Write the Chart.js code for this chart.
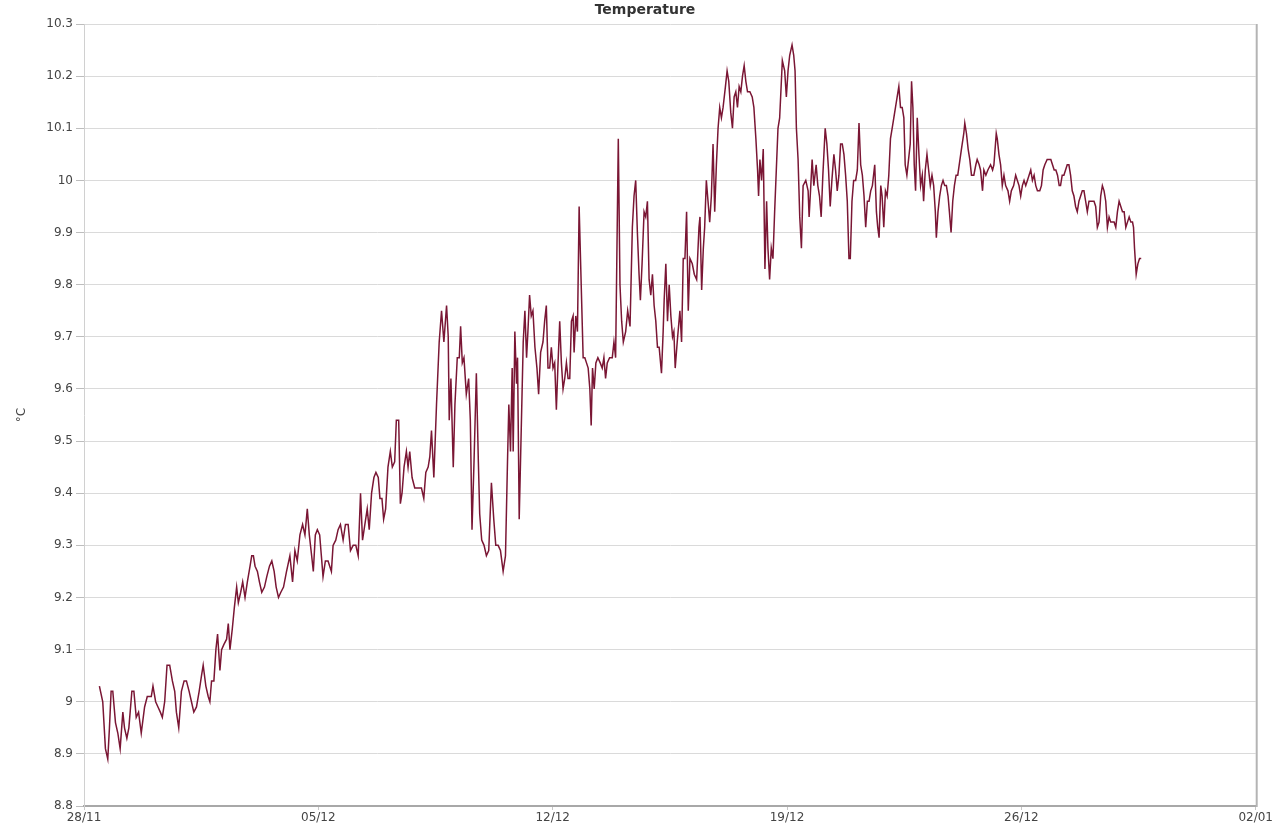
<!DOCTYPE html>
<html>
<head>
<meta charset="utf-8">
<script src="https://cdn.jsdelivr.net/npm/chart.js@4/dist/chart.umd.min.js"></script>
<style>
  html, body { margin: 0; padding: 0; background: #ffffff; }
  #wrap { width: 1274px; height: 832px; position: relative; }
</style>
</head>
<body>
<div id="wrap"><canvas id="c" width="1274" height="832"></canvas></div>
<script>
// ---- Data (days after 28/11 00:00, temperature in °C) ----
const chartTitle = 'Temperature';
const yAxisTitle = '°C';
const xTickDays = [0, 7, 14, 21, 28, 35];
const xTickLabels = ['28/11', '05/12', '12/12', '19/12', '26/12', '02/01'];
const yTickValues = [8.8, 8.9, 9.0, 9.1, 9.2, 9.3, 9.4, 9.5, 9.6, 9.7, 9.8, 9.9, 10.0, 10.1, 10.2, 10.3];
const yTickLabels = ['8.8', '8.9', '9', '9.1', '9.2', '9.3', '9.4', '9.5', '9.6', '9.7', '9.8', '9.9', '10', '10.1', '10.2', '10.3'];

const dayOffsets = [
  0.46,0.56,0.64,0.71,0.76,0.81,0.86,0.94,1.01,1.08,1.16,1.21,1.28,1.34,1.43,1.49,1.56,1.63,1.71,1.81,
  1.89,2.01,2.06,2.14,2.21,2.28,2.34,2.41,2.48,2.56,2.64,2.71,2.76,2.83,2.91,2.99,3.06,3.14,3.21,3.28,
  3.36,3.44,3.51,3.56,3.64,3.71,3.76,3.81,3.88,3.94,3.99,4.06,4.11,4.18,4.26,4.31,4.36,4.43,4.49,4.56,
  4.61,4.68,4.74,4.81,4.88,4.96,5.01,5.06,5.11,5.18,5.24,5.31,5.39,5.46,5.54,5.61,5.68,5.74,5.81,5.88,
  5.96,
  6.05,6.15,6.23,6.30,6.37,6.45,6.53,6.60,6.67,6.73,6.80,6.85,6.91,6.97,7.04,7.09,7.14,7.21,7.29,7.39,
  7.44,7.52,7.59,7.66,7.74,7.81,7.89,7.96,8.04,8.12,8.19,8.26,8.32,8.39,8.46,8.52,8.59,8.66,8.72,8.79,
  8.84,8.90,8.95,9.01,9.08,9.15,9.21,9.28,9.33,9.40,9.45,9.50,9.56,9.63,9.68,9.73,9.80,9.88,9.98,10.08,
  10.15,10.21,10.28,
  10.33,10.38,10.45,10.53,10.61,10.68,10.75,10.83,10.88,10.91,10.96,11.03,11.08,11.15,11.21,11.25,11.30,11.35,11.42,11.49,
  11.54,11.59,11.65,11.72,11.78,11.82,11.88,11.95,12.02,12.09,12.17,12.24,12.30,12.37,12.44,12.52,12.59,12.65,12.69,12.74,
  12.79,12.82,12.87,12.92,12.95,13.00,13.06,13.12,13.17,13.22,13.26,13.31,13.36,13.41,13.47,13.53,13.58,13.64,13.71,13.76,
  13.81,13.86,13.91,13.96,14.01,14.06,14.11,14.16,14.21,14.26,14.31,14.36,14.41,14.46,14.51,14.56,14.61,14.64,14.69,14.74,
  14.79,14.86,14.91,14.96,15.01,15.06,15.11,15.15,15.19,15.24,15.29,15.35,15.42,15.48,15.53,15.58,15.63,15.70,15.78,15.83,
  15.88,
  15.96,16.01,16.06,16.11,16.18,16.24,16.31,16.38,16.43,16.48,16.53,16.58,16.62,16.67,16.73,16.78,16.83,16.88,16.93,16.98,
  17.03,17.08,17.13,17.18,17.25,17.30,17.33,17.38,17.43,17.48,17.53,17.58,17.62,17.66,17.72,17.80,17.85,17.90,17.95,18.00,
  18.05,18.10,18.17,18.23,18.30,18.37,18.40,18.45,18.50,18.54,18.59,18.64,18.69,18.74,18.79,18.84,18.89,18.94,18.99,19.04,
  19.09,19.16,19.21,19.26,19.32,19.37,19.42,19.47,19.52,19.57,19.62,19.67,19.72,19.77,19.82,19.89,19.96,20.01,20.07,20.12,
  20.15,20.19,20.24,20.29,20.34,20.39,20.43,20.48,20.53,20.58,20.63,20.68,20.73,
  20.78,20.86,20.93,20.98,21.03,21.08,21.15,21.20,21.24,21.28,21.33,21.38,21.43,21.48,21.56,21.63,21.66,21.71,21.75,21.80,
  21.87,21.92,21.97,22.02,22.07,22.14,22.19,22.24,22.29,22.34,22.40,22.45,22.50,22.55,22.60,22.65,22.70,22.75,22.80,22.85,
  22.89,22.94,22.99,23.05,23.10,23.15,23.20,23.25,23.30,23.35,23.40,23.45,23.50,23.55,23.62,23.67,23.71,23.75,23.80,23.84,
  23.89,23.94,23.99,24.04,24.09,24.14,24.19,24.24,24.29,24.34,24.39,24.44,24.49,24.53,24.58,24.63,24.68,24.72,24.76,24.80,
  24.84,24.89,24.94,24.99,25.04,25.08,25.13,25.18,25.23,25.28,25.33,25.38,25.43,25.46,25.51,25.56,25.61,25.66,25.71,25.76,
  25.81,25.85,25.90,25.95,26.00,26.05,26.10,
  26.21,26.28,26.31,26.36,26.41,26.46,26.51,26.58,26.64,26.68,26.74,26.78,26.84,26.88,26.94,27.00,27.08,27.14,27.18,27.25,
  27.28,27.33,27.38,27.43,27.48,27.53,27.60,27.65,27.70,27.77,27.83,27.88,27.93,27.98,28.03,28.08,28.13,28.18,28.23,28.28,
  28.33,28.38,28.43,28.48,28.55,28.60,28.65,28.70,28.77,28.83,28.88,28.93,28.98,29.03,29.08,29.13,29.17,29.22,29.27,29.32,
  29.37,29.42,29.47,29.52,29.57,29.62,29.67,29.72,29.77,29.82,29.87,29.92,29.97,30.02,30.07,30.12,30.17,30.22,30.27,30.32,
  30.37,30.42,30.47,30.52,30.57,30.62,30.67,30.72,30.77,30.82,30.87,30.92,30.97,31.02,31.07,31.12,31.17,31.22,31.27,31.32,
  31.35,31.38,31.43,31.48,31.53,31.58
];

const temperatures = [
  9.03,9.00,8.91,8.89,8.95,9.02,9.02,8.96,8.94,8.91,8.98,8.95,8.93,8.95,9.02,9.02,8.97,8.98,8.94,8.99,
  9.01,9.01,9.03,9.00,8.99,8.98,8.97,9.00,9.07,9.07,9.04,9.02,8.98,8.95,9.02,9.04,9.04,9.02,9.00,8.98,
  8.99,9.02,9.05,9.07,9.03,9.01,9.00,9.04,9.04,9.10,9.13,9.06,9.10,9.11,9.12,9.15,9.10,9.14,9.18,9.22,
  9.19,9.21,9.23,9.20,9.23,9.26,9.28,9.28,9.26,9.25,9.23,9.21,9.22,9.24,9.26,9.27,9.25,9.22,9.20,9.21,
  9.22,
  9.25,9.28,9.23,9.29,9.27,9.32,9.34,9.32,9.37,9.32,9.28,9.25,9.32,9.33,9.32,9.28,9.24,9.27,9.27,9.25,
  9.30,9.31,9.33,9.34,9.31,9.34,9.34,9.29,9.30,9.30,9.28,9.40,9.31,9.34,9.37,9.33,9.40,9.43,9.44,9.43,
  9.39,9.39,9.35,9.37,9.45,9.48,9.45,9.46,9.54,9.54,9.38,9.40,9.45,9.48,9.45,9.48,9.43,9.41,9.41,9.41,
  9.39,9.44,9.45,
  9.47,9.52,9.43,9.57,9.69,9.75,9.69,9.76,9.70,9.54,9.62,9.45,9.57,9.66,9.66,9.72,9.65,9.66,9.59,9.62,
  9.54,9.33,9.46,9.63,9.46,9.36,9.31,9.30,9.28,9.29,9.42,9.35,9.30,9.30,9.29,9.25,9.28,9.46,9.57,9.48,
  9.64,9.48,9.71,9.61,9.66,9.35,9.52,9.69,9.75,9.66,9.71,9.78,9.74,9.75,9.68,9.64,9.59,9.67,9.69,9.73,
  9.76,9.64,9.64,9.68,9.64,9.65,9.56,9.65,9.73,9.65,9.60,9.62,9.65,9.62,9.62,9.73,9.74,9.67,9.74,9.71,
  9.95,9.78,9.66,9.66,9.65,9.64,9.60,9.53,9.64,9.60,9.65,9.66,9.65,9.64,9.66,9.62,9.65,9.66,9.66,9.69,
  9.66,
  10.08,9.80,9.73,9.69,9.71,9.75,9.72,9.91,9.97,10.00,9.90,9.82,9.77,9.84,9.94,9.93,9.96,9.81,9.78,9.82,
  9.76,9.73,9.68,9.68,9.63,9.71,9.77,9.84,9.73,9.80,9.74,9.70,9.71,9.64,9.69,9.75,9.69,9.85,9.85,9.94,
  9.75,9.85,9.84,9.82,9.81,9.91,9.93,9.79,9.87,9.91,10.00,9.96,9.92,9.97,10.07,9.94,10.03,10.10,10.14,10.12,
  10.14,10.18,10.21,10.19,10.13,10.10,10.16,10.17,10.14,10.18,10.17,10.20,10.22,10.19,10.17,10.17,10.16,10.14,10.08,10.02,
  9.97,10.04,10.00,10.06,9.83,9.96,9.87,9.81,9.87,9.85,9.94,10.02,10.10,
  10.12,10.23,10.21,10.16,10.21,10.24,10.26,10.24,10.21,10.10,10.04,9.93,9.87,9.99,10.00,9.98,9.93,9.99,10.04,9.99,
  10.03,9.99,9.97,9.93,10.01,10.10,10.07,10.02,9.95,10.00,10.05,10.02,9.98,10.01,10.07,10.07,10.05,10.01,9.96,9.85,
  9.85,9.96,10.00,10.00,10.02,10.11,10.03,10.01,9.97,9.91,9.96,9.96,9.98,9.99,10.03,9.94,9.91,9.89,9.99,9.97,
  9.91,9.98,9.97,10.01,10.08,10.10,10.12,10.14,10.16,10.18,10.14,10.14,10.12,10.03,10.01,10.04,10.07,10.19,10.14,10.03,
  9.98,10.12,10.05,9.99,10.01,9.96,10.02,10.05,10.02,9.99,10.01,9.99,9.94,9.89,9.94,9.97,9.99,10.00,9.99,9.99,
  9.97,9.94,9.90,9.96,9.99,10.01,10.01,
  10.06,10.09,10.11,10.09,10.06,10.04,10.01,10.01,10.03,10.04,10.03,10.02,9.98,10.02,10.01,10.02,10.03,10.02,10.03,10.09,
  10.08,10.05,10.03,9.99,10.01,9.99,9.98,9.96,9.98,9.99,10.01,10.00,9.99,9.97,9.99,10.00,9.99,10.00,10.01,10.02,
  10.00,10.01,9.99,9.98,9.98,9.99,10.02,10.03,10.04,10.04,10.04,10.03,10.02,10.02,10.01,9.99,9.99,10.01,10.01,10.02,
  10.03,10.03,10.01,9.98,9.97,9.95,9.94,9.96,9.97,9.98,9.98,9.96,9.94,9.96,9.96,9.96,9.96,9.95,9.91,9.92,
  9.97,9.99,9.98,9.96,9.91,9.93,9.92,9.92,9.92,9.91,9.94,9.96,9.95,9.94,9.94,9.91,9.92,9.93,9.92,9.92,
  9.91,9.87,9.82,9.84,9.85,9.85
];

const FONT = '"DejaVu Sans", Verdana, sans-serif';
const points = dayOffsets.map((d, i) => ({ x: d, y: temperatures[i] }));

const titlePlugin = {
  id: 'customTitle',
  afterDraw(chart) {
    const ctx = chart.ctx;
    ctx.save();
    ctx.font = 'bold 14px ' + FONT;
    ctx.fillStyle = '#333333';
    ctx.textAlign = 'center';
    ctx.textBaseline = 'middle';
    ctx.fillText(chartTitle, 645, 10);
    ctx.restore();
  }
};

const framePlugin = {
  id: 'frame',
  beforeDatasetsDraw(chart) {
    const { ctx, chartArea } = chart;
    ctx.save();
    ctx.strokeStyle = '#b4b4b4';
    ctx.lineWidth = 2;
    ctx.beginPath();
    ctx.moveTo(chartArea.right + 1, chartArea.top);
    ctx.lineTo(chartArea.right + 1, chartArea.bottom + 1);
    ctx.stroke();
    ctx.restore();
  }
};

new Chart(document.getElementById('c'), {
  type: 'line',
  data: {
    datasets: [{
      data: points,
      borderColor: '#7a1634',
      borderWidth: 1.5,
      pointRadius: 0,
      tension: 0,
      fill: false
    }]
  },
  options: {
    responsive: false,
    animation: false,
    parsing: true,
    layout: { padding: { top: 24, right: 17, left: 0, bottom: 0 } },
    plugins: {
      legend: { display: false },
      tooltip: { enabled: false },
      title: { display: false }
    },
    scales: {
      x: {
        type: 'linear',
        min: 0,
        max: 35,
        afterFit: s => { s.height = 26; },
        afterBuildTicks: s => { s.ticks = xTickDays.map(v => ({ value: v })); },
        ticks: {
          callback: (v, i) => xTickLabels[i],
          maxRotation: 0,
          autoSkip: false,
          padding: 1,
          color: '#444444',
          font: { family: FONT, size: 12 }
        },
        grid: { drawOnChartArea: false, tickLength: 4, color: '#c8c8c8' },
        border: { color: '#a8a8a8', width: 2 }
      },
      y: {
        min: 8.8,
        max: 10.3,
        afterFit: s => { s.width = 84; },
        afterBuildTicks: s => { s.ticks = yTickValues.map(v => ({ value: v })); },
        ticks: {
          callback: (v, i) => yTickLabels[i],
          padding: 3,
          color: '#444444',
          font: { family: FONT, size: 12 }
        },
        grid: { color: '#dadada', tickLength: 8, tickColor: '#bdbdbd' },
        border: { color: '#d0d0d0', width: 1 },
        title: {
          display: true,
          text: yAxisTitle,
          color: '#444444',
          font: { family: FONT, size: 12 },
          padding: { top: 15, bottom: 0 }
        }
      }
    }
  },
  plugins: [titlePlugin, framePlugin]
});
</script>
</body>
</html>
